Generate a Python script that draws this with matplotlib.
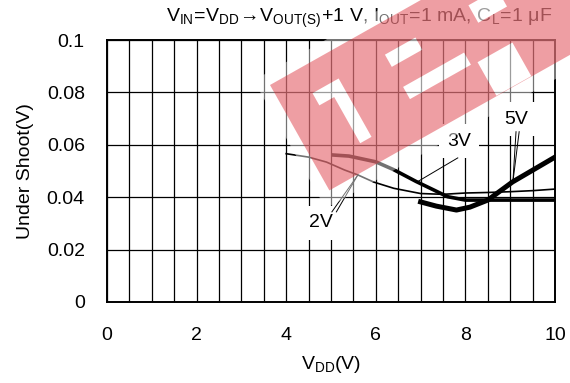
import numpy as np
import matplotlib
matplotlib.use("Agg")
import matplotlib.pyplot as plt
from matplotlib.path import Path
from matplotlib.patches import PathPatch, Polygon

plt.rcParams['font.family'] = ['Liberation Sans', 'DejaVu Sans']
plt.rcParams['mathtext.fontset'] = 'custom'
plt.rcParams['mathtext.rm'] = 'Liberation Sans'
plt.rcParams['mathtext.it'] = 'Liberation Sans'

# Under shoot vs V_DD for three output voltages
vdd_2v = [4.0, 4.5, 4.9, 5.3, 5.6, 5.95, 6.4, 7.0, 7.5, 8.0, 8.5, 9.0, 9.5, 10.0]
us_2v = [0.0566, 0.0553, 0.0534, 0.0504, 0.0485, 0.0458, 0.0434, 0.0414, 0.0411, 0.0416, 0.0418, 0.0421, 0.0425, 0.0431]

vdd_3v = [5.05, 5.4, 6.0, 6.4, 6.9, 7.3, 7.6, 8.0, 8.5, 9.0, 9.5, 10.0]
us_3v = [0.0561, 0.0557, 0.0535, 0.0505, 0.0460, 0.0427, 0.0402, 0.0389, 0.0389, 0.0389, 0.0389, 0.0389]

vdd_5v = [7.0, 7.35, 7.8, 8.1, 8.5, 9.05, 10.0]
us_5v = [0.0382, 0.0366, 0.0351, 0.0362, 0.0389, 0.0458, 0.0553]

xticks = [0, 2, 4, 6, 8, 10]
yticks = [0, 0.02, 0.04, 0.06, 0.08, 0.1]
ytick_labels = ['0', '0.02', '0.04', '0.06', '0.08', '0.1']

W, H = 570, 383
FS = 14
fig = plt.figure(figsize=(W / 100, H / 100), dpi=100)
ax = fig.add_axes([107 / W, 1 - 302 / H, 448 / W, 262 / H])

ax.set_xlim(0, 10)
ax.set_ylim(0, 0.1)
ax.set_xticks(np.arange(0, 10.01, 0.5), minor=True)
ax.set_xticks(xticks)
ax.set_yticks(yticks)
ax.set_yticklabels(ytick_labels)
ax.grid(True, which='both', axis='x', color='black', lw=0.9)
ax.grid(True, which='major', axis='y', color='black', lw=0.9)
ax.tick_params(which='both', length=0, labelsize=FS)
ax.tick_params(axis='y', pad=16)
ax.tick_params(axis='x', pad=18)
for s in ax.spines.values():
    s.set_linewidth(1.4)

ax.plot(vdd_2v, us_2v, color='black', lw=1.2, zorder=3)
ax.plot(vdd_3v, us_3v, color='black', lw=2.6, zorder=3)
ax.plot(vdd_5v, us_5v, color='black', lw=3.6, zorder=3)

box = dict(facecolor='white', edgecolor='none', pad=6)
ax.text(4.78, 0.0302, '2V', fontsize=FS, ha='center', va='center', bbox=box, zorder=4)
ax.text(7.86, 0.0614, '3V', fontsize=FS, ha='center', va='center', bbox=box, zorder=4)
ax.text(9.13, 0.0698, '5V', fontsize=FS, ha='center', va='center', bbox=box, zorder=4)

# leader lines from labels to curves
ax.plot([5.02, 5.6], [0.0344, 0.0485], color='black', lw=0.7, zorder=5)
ax.plot([5.12, 5.6], [0.0344, 0.0485], color='black', lw=0.7, zorder=5)
ax.plot([7.83, 6.92], [0.0550, 0.0458], color='black', lw=0.7, zorder=5)
ax.plot([9.13, 9.06], [0.0650, 0.0458], color='black', lw=0.7, zorder=5)
ax.plot([9.2, 9.06], [0.0650, 0.0458], color='black', lw=0.7, zorder=5)

ax.set_xlabel(r'$\mathregular{V_{DD}(V)}$', fontsize=FS, labelpad=7)
ax.set_ylabel('Under Shoot(V)', fontsize=FS, labelpad=9)
fig.text(552 / W, 1 - 18 / H,
         r'$\mathregular{V_{IN}\!=\!V_{DD}\!\rightarrow\! V_{OUT(S)}\!+\!1\ V{,}\ I_{OUT}\!=\!1\ mA{,}\ C_L\!=\!1\ \mu F}$',
         fontsize=FS, ha='right', va='center')

# watermark logo: tilted red band with white letter slots
ang = np.deg2rad(29.4)
ox, oy = 270, 85


def uv_pts(u0, u1, v0, v1):
    pts = []
    for u, v in [(u0, v0), (u1, v0), (u1, v1), (u0, v1)]:
        px = ox + u * np.cos(ang) + v * np.sin(ang)
        py = oy - u * np.sin(ang) + v * np.cos(ang)
        pts.append((px / W, 1 - py / H))
    return np.array(pts)


def ring(pts, ccw):
    x, y = pts[:, 0], pts[:, 1]
    area = 0.5 * np.sum(x * np.roll(y, -1) - np.roll(x, -1) * y)
    if (area > 0) != ccw:
        pts = pts[::-1]
    verts = np.vstack([pts, pts[:1]])
    codes = [Path.MOVETO] + [Path.LINETO] * (len(pts) - 1) + [Path.CLOSEPOLY]
    return verts, codes


slots = [(33, 63, 28, 42), (50, 63, 42, 95), (115, 150, 30, 44),
         (115, 185, 67, 81), (192, 232, 82, 120.5), (212, 245, 28, 48)]

halo = Polygon(uv_pts(-12, 420, -12, 135), closed=True, transform=fig.transFigure,
               facecolor='white', edgecolor='none', alpha=0.45, zorder=10)
fig.patches.append(halo)
for sl in slots:
    fig.patches.append(Polygon(uv_pts(*sl), closed=True, transform=fig.transFigure,
                               facecolor='white', edgecolor='none', alpha=0.3, zorder=10))

verts, codes = ring(uv_pts(0, 420, 0, 121), True)
all_v, all_c = [verts], list(codes)
for sl in slots:
    v, c = ring(uv_pts(*sl), False)
    all_v.append(v)
    all_c += c
logo = PathPatch(Path(np.vstack(all_v), all_c), transform=fig.transFigure,
                 facecolor=(0.86, 0.16, 0.2), edgecolor='none', alpha=0.45, zorder=11)
fig.patches.append(logo)

fig.savefig('out.png', dpi=100)
